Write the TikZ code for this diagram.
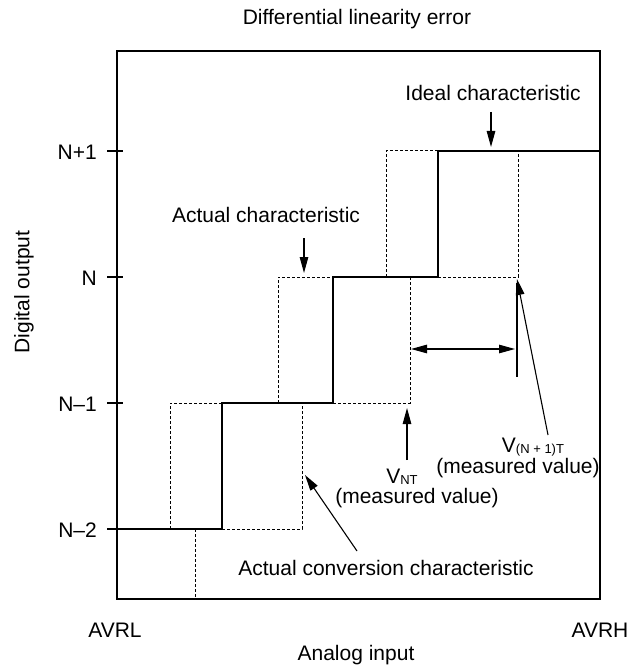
\documentclass[tikz,border=0pt]{standalone}
\usepackage{fontspec}
\setmainfont{Liberation Sans}
\usetikzlibrary{arrows.meta}
\newcommand\lsub[1]{\raisebox{-1pt}{\fontsize{13}{14}\selectfont #1}}
\begin{document}
\begin{tikzpicture}[x=1pt,y=-1pt,
  lbl/.style={inner sep=0pt, font=\fontsize{21}{24}\selectfont},
  idealline/.style={line width=2.2pt},
  frame/.style={line width=2.3pt},
  dsh/.style={line width=1pt, dash pattern=on 3pt off 2pt},
  arr/.style={line width=1.1pt, -{Triangle[length=16pt,width=8.5pt]}},
  darr/.style={line width=1.1pt, {Triangle[length=16pt,width=8.5pt]}-{Triangle[length=16pt,width=8.5pt]}},
  thinline/.style={line width=1.1pt},
  ]
\useasboundingbox (0,0) rectangle (639,668);
% frame
\draw[frame] (117,51) rectangle (600,599);
% ticks
\foreach \yy in {151,277,403,529} \draw[thinline] (107,\yy) -- (123,\yy);
% tick labels
\node[lbl,anchor=east] (lNp) at (97,152) {N+1};
\node[lbl,anchor=east] (lN)  at (97,278) {N};
\node[lbl,anchor=east] (lNm) at (97,404) {N–1};
\node[lbl,anchor=east] (lNmm) at (97,530) {N–2};
% axis texts
\node[lbl] (title) at (357,19) {Differential linearity error};
\node[lbl,rotate=90] (yax) at (24,292) {Digital output};
\node[lbl] (avrl) at (115,630) {AVRL};
\node[lbl] (avrh) at (600,630) {AVRH};
\node[lbl] (xax) at (356,655) {Analog input};
% dashed actual characteristic
\draw[dsh] (170,529) -- (170,403) -- (222,403);
\draw[dsh] (222,529) -- (302,529) -- (302,403);
\draw[dsh] (278,403) -- (278,277) -- (333,277);
\draw[dsh] (333,403) -- (410,403) -- (410,277);
\draw[dsh] (386,277) -- (386,151) -- (438,151);
\draw[dsh] (438,277) -- (518,277) -- (518,151);
\draw[dsh] (195,529) -- (195,599);
% ideal characteristic
\draw[idealline] (117,529) -- (222,529) -- (222,403) -- (333,403) -- (333,277)
  -- (438,277) -- (438,151) -- (600,151);
% labels
\node[lbl] (idealtxt) at (493,93) {Ideal characteristic};
\node[lbl] (acttxt) at (266,215) {Actual characteristic};
\node[lbl] (conv) at (386,568) {Actual conversion characteristic};
\node[lbl,anchor=base] (vnt) at (402,483) {V\lsub{NT}};
\node[lbl,anchor=base] (vntm) at (417,503) {(measured value)};
\node[lbl,anchor=base] (vnp) at (533,452) {V\lsub{(N + 1)T}};
\node[lbl,anchor=base] (vnpm) at (518,473) {(measured value)};
% arrow coordinates
\coordinate (ideals) at (491,112);
\coordinate (idealt) at (491,147);
\coordinate (acts) at (304,238);
\coordinate (actt) at (304,273);
\coordinate (convs) at (357,551);
\coordinate (convt) at (305,475);
\coordinate (vnts) at (407,460);
\coordinate (vntt) at (407,408);
\coordinate (vnps) at (548,435);
\coordinate (vnpt) at (517,279);
\coordinate (da) at (411,349);
\coordinate (db) at (515,349);
\coordinate (vla) at (517,283);
\coordinate (vlb) at (517,377);
% arrows
\draw[arr] (ideals) -- (idealt);
\draw[arr] (acts) -- (actt);
\draw[arr] (convs) -- (convt);
\draw[arr] (vnts) -- (vntt);
\draw[arr] (vnps) -- (vnpt);
\draw[darr] (da) -- (db);
\draw[thinline] (vla) -- (vlb);
\end{tikzpicture}
\end{document}
